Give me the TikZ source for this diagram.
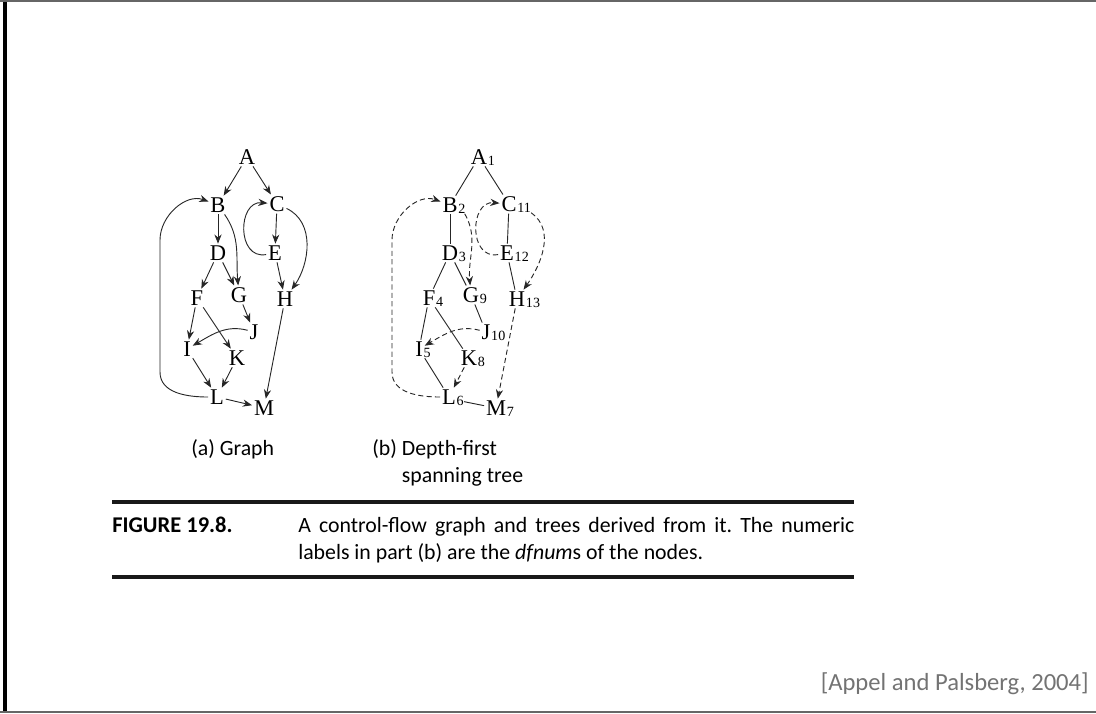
\documentclass[tikz,border=0pt]{standalone}
\usepackage{fontspec}
\setmainfont{Liberation Serif}
\newfontfamily\capfont{Carlito}
\usetikzlibrary{arrows.meta}
\tikzstyle{arrow}=[-{Stealth[length=2.3mm,width=1.8mm]}, line width=0.65pt, color=black!85]
\tikzstyle{darrow}=[arrow, dash pattern=on 1.3mm off 0.8mm]
\tikzstyle{tedge}=[line width=0.65pt, color=black!85]

\begin{document}
\begin{tikzpicture}[x=0.025cm, y=-0.025cm,
  vtx/.style={inner sep=1.2pt, font=\fontsize{16}{16}\selectfont},
  dfn/.style={anchor=base west, inner sep=0pt, xshift=-1pt, yshift=-0.8pt,
              font=\fontsize{10}{10}\selectfont},
  subcap/.style={anchor=base west, inner sep=0pt,
                 font=\capfont\fontsize{15.5}{18}\selectfont},
  figrule/.style={line width=0.09cm, color=black!90}
]
\useasboundingbox (0,0) rectangle (1096,713);
% slide frame
\draw[line width=0.075cm] (5,0) -- (5,713);
\draw[black!60, line width=0.03cm] (0,1) -- (1096,1);
\draw[black!60, line width=0.03cm] (0,712) -- (1096,712);

% (a) graph
\node[vtx] (A) at (247,157) {A};
\node[vtx] (B) at (218,205) {B};
\node[vtx] (C) at (277,204) {C};
\node[vtx] (D) at (218,253) {D};
\node[vtx] (E) at (275,253) {E};
\node[vtx] (F) at (197,298) {F};
\node[vtx] (G) at (239,295) {G};
\node[vtx] (H) at (285,299) {H};
\node[vtx] (J) at (254,332) {J};
\node[vtx] (I) at (187,349) {I};
\node[vtx] (K) at (237,358) {K};
\node[vtx] (L) at (217,397) {L};
\node[vtx] (M) at (264,408) {M};
\coordinate (lbot) at (160,372);
\coordinate (ltop) at (160,240);

\draw[arrow] (A) -- (B);
\draw[arrow] (A) -- (C);
\draw[arrow] (B) -- (D);
\draw[arrow] (B) to[out=-55, in=95] (G);
\draw[arrow] (D) -- (F);
\draw[arrow] (D) -- (G);
\draw[arrow] (C) -- (E);
\draw[arrow] (C) to[out=-25, in=55] (H);
\draw[arrow] (E) to[out=190, in=175, looseness=1.5] (C);
\draw[arrow] (E) -- (H);
\draw[arrow] (F) -- (I);
\draw[arrow] (F) -- (K);
\draw[arrow] (G) -- (J);
\draw[arrow] (J) to[out=165, in=30] (I);
\draw[arrow] (I) -- (L);
\draw[arrow] (K) -- (L);
\draw[arrow] (L) -- (M);
\draw[arrow] (H) -- (M);
\draw[arrow] (L) to[out=180, in=-90] (lbot) -- (ltop) to[out=90, in=160] (B);

% (b) depth-first spanning tree
\node[vtx] (a1)  at (479,157) {A};
\node[vtx] (b2)  at (450,205) {B};
\node[vtx] (c11) at (509,204) {C};
\node[vtx] (d3)  at (450,253) {D};
\node[vtx] (e12) at (507,253) {E};
\node[vtx] (f4)  at (429,298) {F};
\node[vtx] (g9)  at (471,295) {G};
\node[vtx] (h13) at (517,299) {H};
\node[vtx] (j10) at (486,332) {J};
\node[vtx] (i5)  at (419,349) {I};
\node[vtx] (k8)  at (469,358) {K};
\node[vtx] (l6)  at (449,397) {L};
\node[vtx] (m7)  at (496,408) {M};
\node[dfn] (a1n)  at (a1.base east)  {1};
\node[dfn] (b2n)  at (b2.base east)  {2};
\node[dfn] (c11n) at (c11.base east) {11};
\node[dfn] (d3n)  at (d3.base east)  {3};
\node[dfn] (e12n) at (e12.base east) {12};
\node[dfn] (f4n)  at (f4.base east)  {4};
\node[dfn] (g9n)  at (g9.base east)  {9};
\node[dfn] (h13n) at (h13.base east) {13};
\node[dfn] (j10n) at (j10.base east) {10};
\node[dfn] (i5n)  at (i5.base east)  {5};
\node[dfn] (k8n)  at (k8.base east)  {8};
\node[dfn] (l6n)  at (l6.base east)  {6};
\node[dfn] (m7n)  at (m7.base east)  {7};
\coordinate (lbot2) at (392,372);
\coordinate (ltop2) at (392,240);

\draw[tedge] (a1) -- (b2);
\draw[tedge] (a1) -- (c11);
\draw[tedge] (b2) -- (d3);
\draw[tedge] (d3) -- (f4);
\draw[tedge] (d3) -- (g9);
\draw[tedge] (f4) -- (i5);
\draw[tedge] (f4) -- (k8);
\draw[tedge] (g9) -- (j10);
\draw[tedge] (i5) -- (l6);
\draw[tedge] (l6n) -- (m7);
\draw[tedge] (c11) -- (e12);
\draw[tedge] (e12) -- (h13);
\draw[darrow] (b2n) to[out=-60, in=95] (g9);
\draw[darrow] (c11n) to[out=-35, in=55] (h13);
\draw[darrow] (e12) to[out=190, in=175, looseness=1.5] (c11);
\draw[darrow] (j10) to[out=165, in=30] (i5);
\draw[darrow] (k8) -- (l6);
\draw[darrow] (h13) -- (m7);
\draw[darrow] (l6) to[out=180, in=-90] (lbot2) -- (ltop2) to[out=90, in=160] (b2);

% captions
\node[subcap] (capa)  at (191,455) {(a) Graph};
\node[subcap] (capb)  at (372,455) {(b) Depth-first};
\node[subcap] (capb2) at (372,482) {\phantom{(b) }spanning tree};

\coordinate (rulel) at (112,502);
\coordinate (ruler) at (854,502);
\draw[figrule] (rulel) -- (ruler);
\node[anchor=base west, inner sep=0pt, font=\capfont\bfseries\fontsize{16}{18}\selectfont]
  (fignum) at (112,532) {FIGURE 19.8.};
\node[anchor=base west, inner sep=0pt, text width=13.9cm, align=justify,
      font=\capfont\fontsize{15.5}{19.8}\selectfont]
  (figtext) at (298,532) {\frenchspacing A control-flow graph and trees derived from it. The numeric\linebreak
  labels in part (b) are the \emph{dfnum}s of the nodes.};
\coordinate (rulebl) at (112,577);
\coordinate (rulebr) at (854,577);
\draw[figrule] (rulebl) -- (rulebr);

\node[anchor=base east, inner sep=0pt, text=black!55,
      font=\capfont\fontsize{17.5}{20}\selectfont] (cite) at (1089,690)
  {[Appel and Palsberg, 2004]};
\end{tikzpicture}
\end{document}
